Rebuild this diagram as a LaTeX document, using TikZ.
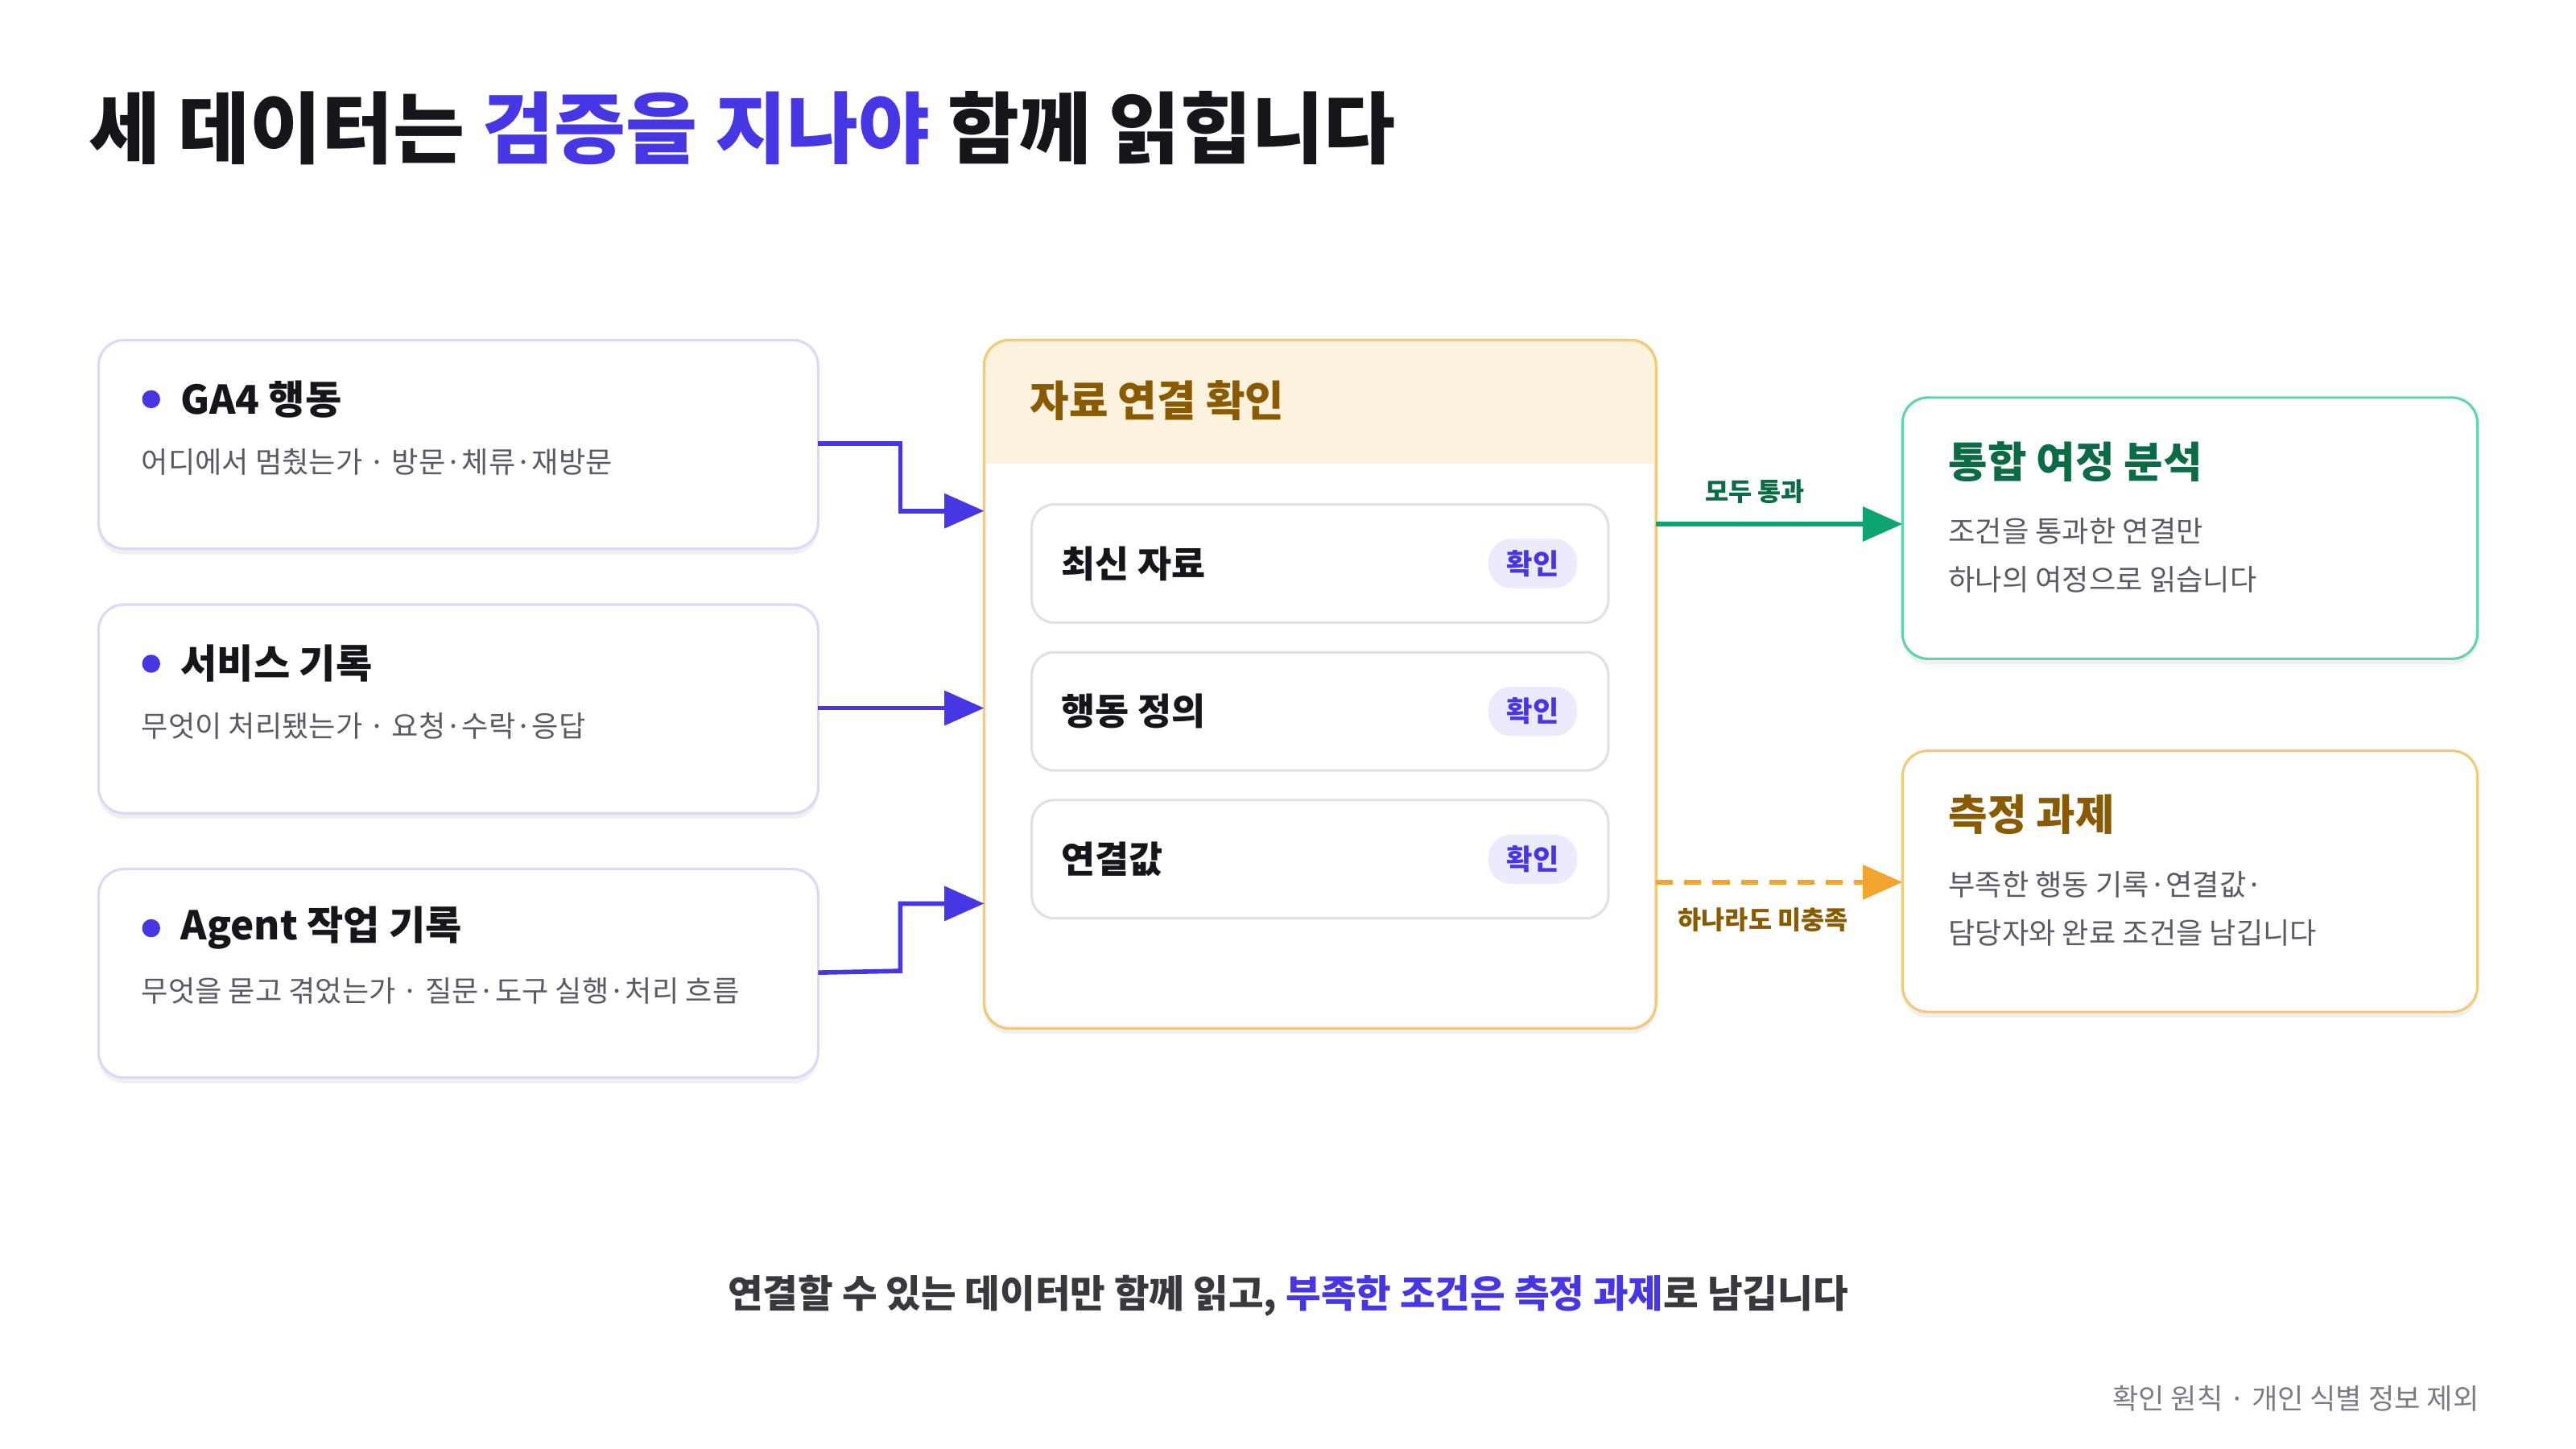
\documentclass[tikz,border=0pt]{standalone}
\usepackage{fontspec}
\setmainfont{Noto Sans CJK KR}
\usetikzlibrary{arrows.meta,shadows}
\definecolor{blu}{HTML}{4636E3}
\definecolor{ink}{HTML}{15151C}
\definecolor{gry}{HTML}{5A5A66}
\definecolor{lav}{HTML}{DCD8F8}
\definecolor{pill}{HTML}{ECEBFD}
\definecolor{org}{HTML}{F3C97A}
\definecolor{cream}{HTML}{FDF2DE}
\definecolor{brn}{HTML}{8A5A00}
\definecolor{grn}{HTML}{0EA472}
\definecolor{grnb}{HTML}{5FD6AA}
\definecolor{grnd}{HTML}{0B6B45}
\definecolor{dsh}{HTML}{F2A52E}
\definecolor{inner}{HTML}{E0E0E6}
\tikzset{
 card/.style={rounded corners=9pt,fill=white,line width=0.9pt,drop shadow={shadow xshift=0pt,shadow yshift=-2pt,opacity=0.12}},
 ttl/.style={anchor=west,font=\fontsize{14}{16}\selectfont\bfseries,text=ink},
 sub/.style={anchor=west,font=\fontsize{10.3}{13}\selectfont,text=gry},
 conn/.style={blu,line width=1.6pt,-{Triangle[length=14pt,width=12pt]}},
}
\begin{document}
\begin{tikzpicture}[x=0.020408cm,y=-0.020408cm]
\useasboundingbox (0,0) rectangle (1568,882);
\node[anchor=west,font=\fontsize{27.5}{32}\selectfont\bfseries,text=ink] (title) at (48,78) {세 데이터는 \textcolor{blu}{검증을 지나야} 함께 읽힙니다};
% left cards
\foreach \y/\n/\t/\s in {207/a/GA4 행동/어디에서 멈췄는가 · 방문·체류·재방문, 368/b/서비스 기록/무엇이 처리됐는가 · 요청·수락·응답, 529/c/Agent 작업 기록/무엇을 묻고 겪었는가 · 질문·도구 실행·처리 흐름}{
 \draw[card,draw=lav] (60,\y) rectangle (498,\y+127);
 \coordinate (\n) at (498,\y+63);
 \fill[blu] (92,\y+36) circle (5.5);
 \node[ttl] (\n t) at (104,\y+36) {\t};
 \node[sub] (\n s) at (80,\y+74) {\s};
}
% middle
\draw[card,draw=org] (599,207) rectangle (1008,626);
\begin{scope}
\clip[rounded corners=9pt] (599,207) rectangle (1008,626);
\fill[cream] (599,207) rectangle (1008,282);
\end{scope}
\draw[org,line width=0.9pt,rounded corners=9pt] (599,207) rectangle (1008,626);
\node[anchor=west,font=\fontsize{15}{17}\selectfont\bfseries,text=brn] (mt) at (621,244) {자료 연결 확인};
\foreach \y/\n/\t in {307/i1/최신 자료, 397/i2/행동 정의, 487/i3/연결값}{
 \draw[rounded corners=8pt,fill=white,draw=inner,line width=0.9pt] (628,\y) rectangle (979,\y+72);
 \node[anchor=west,font=\fontsize{13}{15}\selectfont\bfseries,text=ink] (\n) at (640,\y+36) {\t};
 \node[fill=pill,rounded corners=8pt,minimum width=54*0.020408cm,minimum height=30*0.020408cm,inner sep=0,font=\fontsize{10}{12}\selectfont\bfseries,text=blu] (\n p) at (933,\y+36) {확인};
}
\coordinate (m1) at (599,311);
\coordinate (m2) at (599,431);
\coordinate (m3) at (599,550);
\draw[conn] (a) -- (548,270) -- (548,311) -- (m1);
\draw[conn] (b) -- (m2);
\draw[conn] (c) -- (548,591) -- (548,550) -- (m3);
% right cards
\draw[card,draw=grnb] (1158,242) rectangle (1508,401);
\node[anchor=west,font=\fontsize{15}{17}\selectfont\bfseries,text=grnd] (gt) at (1180,281) {통합 여정 분석};
\node[sub,align=left,font=\fontsize{10.3}{17}\selectfont] (gs) at (1180,338) {조건을 통과한 연결만\\하나의 여정으로 읽습니다};
\draw[card,draw=org] (1158,457) rectangle (1508,616);
\node[anchor=west,font=\fontsize{15}{17}\selectfont\bfseries,text=brn] (ot) at (1180,496) {측정 과제};
\node[sub,align=left,font=\fontsize{10.3}{17}\selectfont] (os) at (1180,553) {부족한 행동 기록·연결값·\\담당자와 완료 조건을 남깁니다};
\coordinate (g) at (1158,319);
\coordinate (o) at (1158,537);
\draw[grn,line width=1.6pt,-{Triangle[length=14pt,width=12pt]}] (1008,319) -- node[above=3pt,xshift=-0.3cm,font=\fontsize{9}{11}\selectfont\bfseries,text=grnd] (gl) {모두 통과} (g);
\draw[dsh,line width=1.6pt,dash pattern=on 6pt off 4pt,-{Triangle[length=14pt,width=12pt]}] (1008,537) -- node[below=5pt,xshift=-0.2cm,font=\fontsize{9}{11}\selectfont\bfseries,text=brn] (ol) {하나라도 미충족} (o);
% captions
\node[font=\fontsize{13.5}{16}\selectfont\bfseries,text=ink!85] (cap) at (784,789) {연결할 수 있는 데이터만 함께 읽고, \textcolor{blu}{부족한 조건은 측정 과제}로 남깁니다};
\node[anchor=east,font=\fontsize{10}{12}\selectfont,text=gry!80] (foot) at (1515,851) {확인 원칙 · 개인 식별 정보 제외};
\end{tikzpicture}
\end{document}
